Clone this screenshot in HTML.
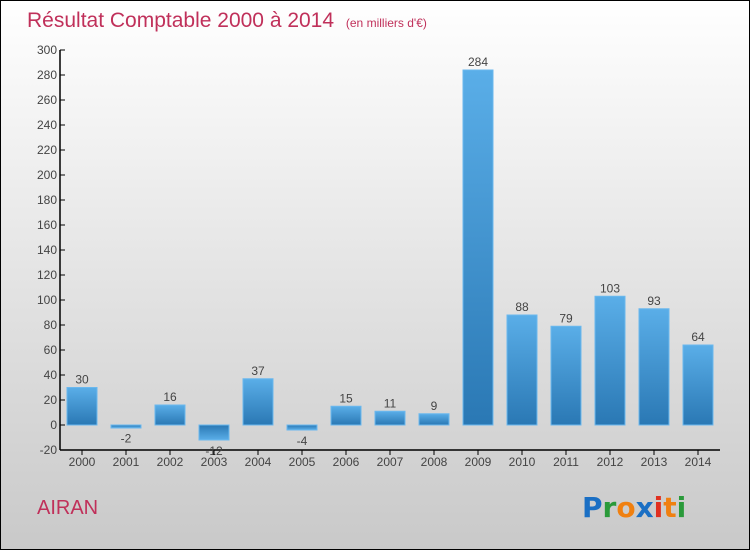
<!DOCTYPE html>
<html><head><meta charset="utf-8"><style>
body{margin:0;width:750px;height:550px;overflow:hidden}
svg{display:block;font-family:"Liberation Sans",sans-serif}
</style></head><body>
<svg id="chart" width="750" height="550" xmlns="http://www.w3.org/2000/svg">
<defs>
<linearGradient id="bg" x1="0" y1="0" x2="0" y2="1"><stop offset="0" stop-color="#ffffff"/><stop offset="1" stop-color="#c9c9c9"/></linearGradient>
<linearGradient id="bar" x1="0" y1="0" x2="0" y2="1"><stop offset="0" stop-color="#5aaee8"/><stop offset="1" stop-color="#2a78b4"/></linearGradient>
<linearGradient id="barn" x1="0" y1="1" x2="0" y2="0"><stop offset="0" stop-color="#5aaee8"/><stop offset="1" stop-color="#2a78b4"/></linearGradient>
</defs>
<rect x="0.5" y="0.5" width="749" height="549" fill="url(#bg)" stroke="#000"/>
<text x="27" y="27" font-size="21" fill="#c0305a">Résultat Comptable 2000 à 2014 <tspan font-size="12" dx="6">(en milliers d'€)</tspan></text>
<text x="37" y="514" font-size="20" fill="#c0305a">AIRAN</text>
<g font-size="28" font-weight="bold" font-family="'DejaVu Sans',sans-serif">
<text x="582" y="517"><tspan fill="#1a6fc4">P</tspan><tspan fill="#2a9a3a">r</tspan><tspan fill="#f08010">o</tspan><tspan fill="#1a6fc4">x</tspan><tspan fill="#e03020">i</tspan><tspan fill="#f08010">t</tspan><tspan fill="#2a9a3a">i</tspan></text>
</g>
<g id="plot"></g>
</svg>
<script>
const categories=["2000","2001","2002","2003","2004","2005","2006","2007","2008","2009","2010","2011","2012","2013","2014"];
const values=[30,-2,16,-12,37,-4,15,11,9,284,88,79,103,93,64];
const yTicks=[-20,0,20,40,60,80,100,120,140,160,180,200,220,240,260,280,300];
const NS="http://www.w3.org/2000/svg";
const g=document.getElementById('plot');
const y=v=>425-v*1.25;
const x=i=>82+i*44;
function el(t,a,txt){const e=document.createElementNS(NS,t);for(const k in a)e.setAttribute(k,a[k]);if(txt!==undefined)e.textContent=txt;g.appendChild(e);return e;}
let ax=el('line',{x1:60,y1:y(300),x2:60,y2:450,stroke:'#000','stroke-width':1.5});

let bx=el('line',{x1:60,y1:450,x2:720,y2:450,stroke:'#000','stroke-width':1.5});

yTicks.forEach(v=>{
 const t=el('line',{x1:60,y1:y(v),x2:65,y2:y(v),stroke:'#000'});
 
 const l=el('text',{x:57,y:y(v)+4,'font-size':12,fill:'#444','text-anchor':'end'},v);
 
});
categories.forEach((c,i)=>{
 const v=values[i];const top=Math.min(y(v),y(0));const h=Math.max(Math.abs(y(v)-y(0)),3);
 const r=el('rect',{x:x(i)-15,y:top,width:30,height:h,fill:v>=0?'url(#bar)':'url(#barn)',stroke:'#6ab8ee','stroke-width':1});
 
 const lt=el('text',{x:x(i),y:v>=0?y(v)-4:y(v)+15,'font-size':12,fill:'#444','text-anchor':'middle'},v);
 
 const tk=el('line',{x1:x(i),y1:450,x2:x(i),y2:455,stroke:'#000'});
 
 const xl=el('text',{x:x(i),y:466,'font-size':12,fill:'#444','text-anchor':'middle'},c);
 
});
</script>
</body></html>
